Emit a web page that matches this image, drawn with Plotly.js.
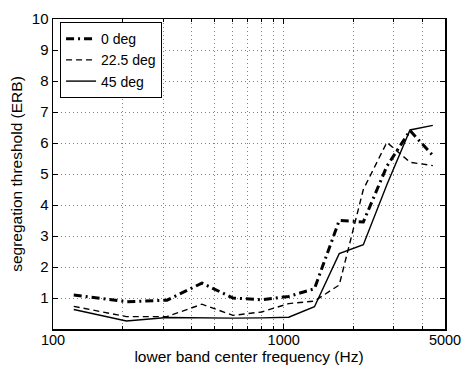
<!DOCTYPE html>
<html>
<head>
<meta charset="utf-8">
<script src="https://cdn.plot.ly/plotly-3.0.1.min.js"></script>
<style>
  html, body { margin: 0; padding: 0; background: #fff; }
  #chart { width: 464px; height: 365px; }
</style>
</head>
<body>
<div id="chart"></div>
<script>
// lower band center frequencies (Hz)
const freqs = [123, 208, 312, 442, 603, 803, 1051, 1359, 1740, 2213, 2799, 3526, 4428];
// segregation thresholds (ERB)
const deg0   = [1.10, 0.88, 0.93, 1.48, 1.00, 0.94, 1.05, 1.30, 3.50, 3.45, 5.25, 6.40, 5.60];
const deg225 = [0.73, 0.40, 0.40, 0.80, 0.44, 0.55, 0.82, 0.90, 1.42, 4.50, 6.02, 5.38, 5.27];
const deg45  = [0.63, 0.26, 0.37, 0.35, 0.35, 0.36, 0.38, 0.72, 2.43, 2.72, 4.65, 6.42, 6.57];
const seriesNames = ['0 deg', '22.5 deg', '45 deg'];
const xTickVals = [100, 1000, 5000];
const xTickText = ['100', '1000', '5000'];
const xMinorVals = [200, 300, 400, 500, 600, 700, 800, 900, 2000, 3000, 4000];
const yTickVals = [1, 2, 3, 4, 5, 6, 7, 8, 9, 10];

const font = 'Liberation Sans, Arial, Helvetica, sans-serif';
const gridStyle = { showgrid: true, gridcolor: '#808080', griddash: '1px,3px', gridwidth: 1 };

const traces = [
  { x: freqs, y: deg0, name: seriesNames[0], mode: 'lines',
    line: { color: '#000', width: 3, dash: '8px,4px,2px,4px' } },
  { x: freqs, y: deg225, name: seriesNames[1], mode: 'lines',
    line: { color: '#000', width: 1.4, dash: '6px,4px' } },
  { x: freqs, y: deg45, name: seriesNames[2], mode: 'lines',
    line: { color: '#000', width: 1.4 } }
];

const layout = {
  width: 464, height: 365,
  margin: { l: 53, r: 19, t: 19, b: 36 },
  paper_bgcolor: '#fff', plot_bgcolor: '#fff',
  font: { family: font, size: 15, color: '#000' },
  showlegend: true,
  legend: {
    x: 0.018, y: 0.99, xanchor: 'left', yanchor: 'top',
    bgcolor: '#fff', bordercolor: '#000', borderwidth: 1,
    font: { family: font, size: 14, color: '#000' },
    tracegroupgap: 0
  },
  xaxis: Object.assign({
    type: 'log',
    range: [Math.log10(100), Math.log10(5000)],
    tickmode: 'array', tickvals: xTickVals, ticktext: xTickText,
    ticks: 'inside', ticklen: 5, tickcolor: '#000', tickwidth: 1,
    showline: true, linecolor: '#000', linewidth: 1.5, mirror: 'ticks',
    minor: Object.assign({ tickvals: xMinorVals, ticks: 'inside', ticklen: 3, tickcolor: '#000' }, gridStyle),
    zeroline: false,
    ticklabelstandoff: -3,
    tickfont: { family: font, size: 14.5 },
    title: { text: 'lower band center frequency (Hz)', font: { family: font, size: 15.5 }, standoff: 6 }
  }, gridStyle),
  yaxis: Object.assign({
    range: [0, 10],
    tickmode: 'array', tickvals: yTickVals,
    ticks: 'inside', ticklen: 5, tickcolor: '#000', tickwidth: 1,
    showline: true, linecolor: '#000', linewidth: 1.5, mirror: 'ticks',
    zeroline: false,
    tickfont: { family: font, size: 15 },
    title: { text: 'segregation threshold (ERB)', font: { family: font, size: 15.5 }, standoff: 5 }
  }, gridStyle)
};

Plotly.newPlot('chart', traces, layout, { staticPlot: true, displayModeBar: false });
</script>
</body>
</html>
